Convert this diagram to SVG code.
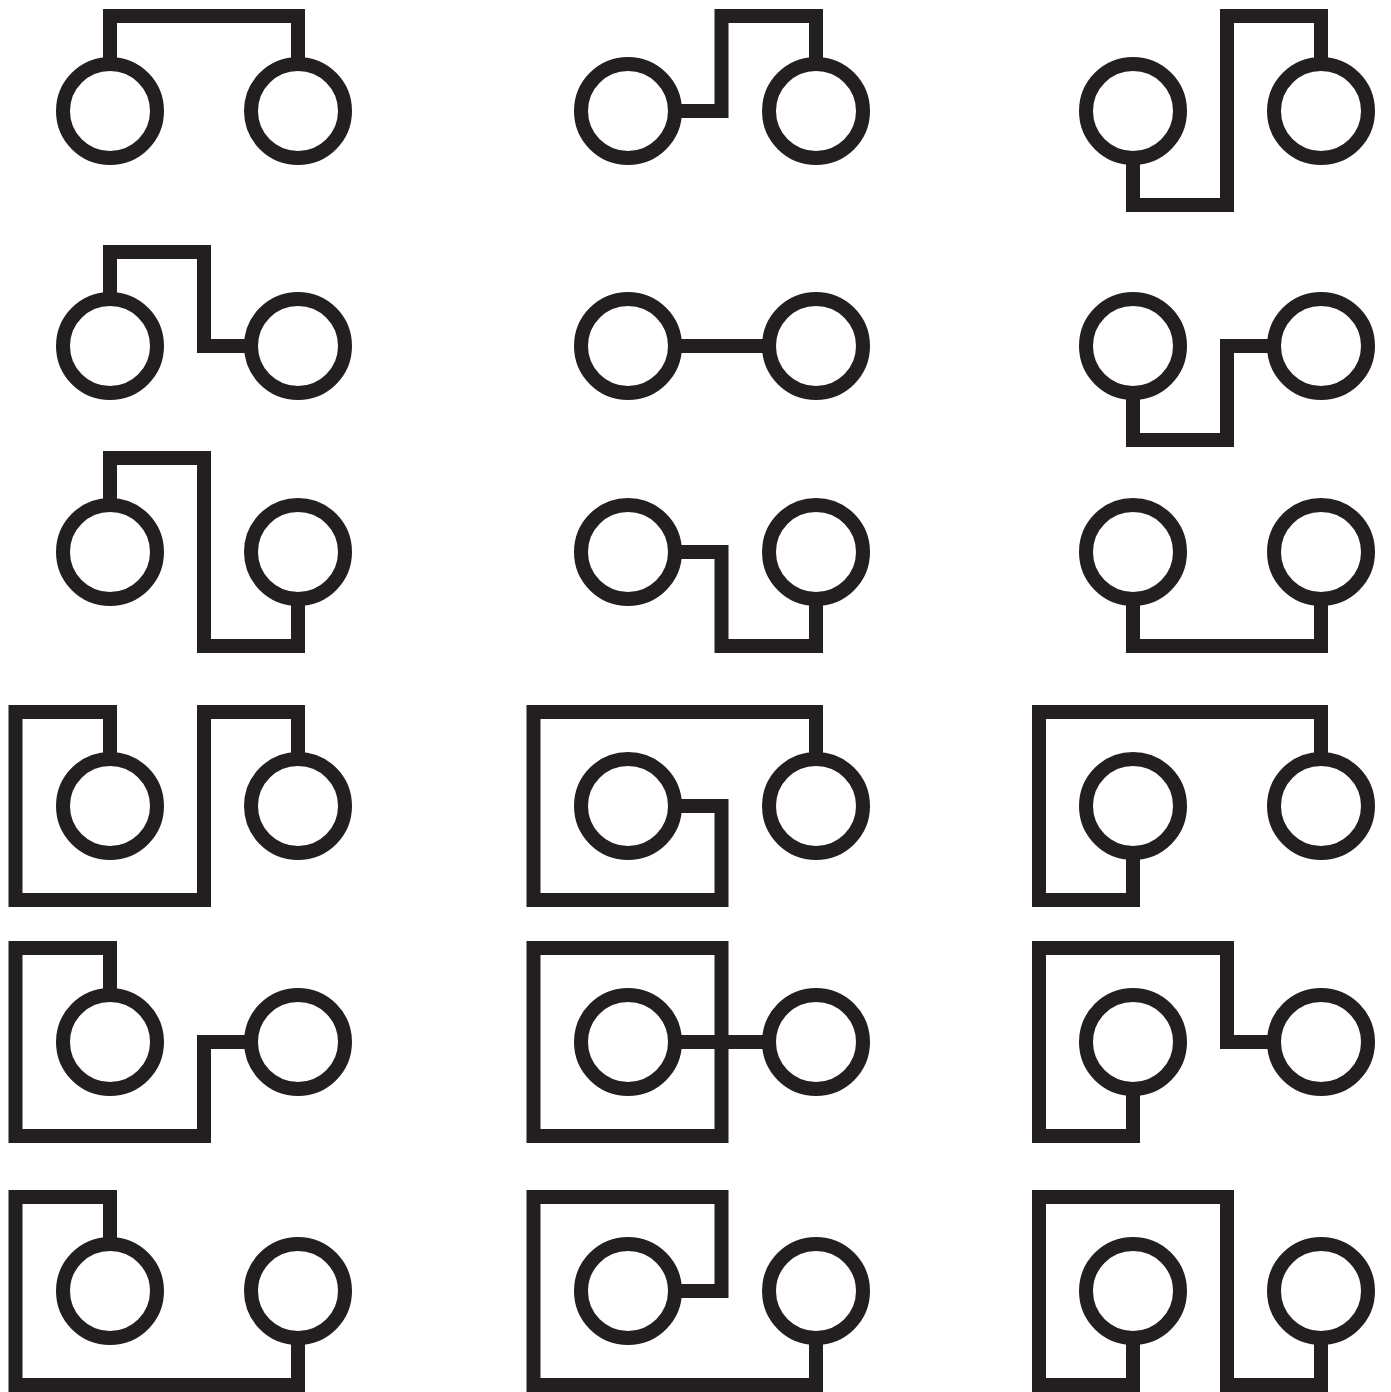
<svg xmlns="http://www.w3.org/2000/svg" width="1391" height="1392" viewBox="0 0 1391 1392">
<style>
.n{fill:none;stroke:#231f20;stroke-width:14}
.w{fill:none;stroke:#231f20;stroke-width:14;stroke-linejoin:miter;stroke-linecap:butt}
</style>
<rect width="1391" height="1392" fill="#fff"/>
<g id="connectors">
<path class="w" d="M110,64 V16 H298 V64"/>
<path class="w" d="M675,111 H721.5 V16 H816 V64"/>
<path class="w" d="M1133,158 V205 H1227 V16 H1321 V64"/>
<path class="w" d="M110,299 V252 H204 V346 H251"/>
<path class="w" d="M675,346 H769"/>
<path class="w" d="M1133,393 V440 H1227 V346 H1274"/>
<path class="w" d="M110,505 V458 H204 V646 H298 V599"/>
<path class="w" d="M675,552 H721.5 V646 H816 V599"/>
<path class="w" d="M1133,599 V646 H1321 V599"/>
<path class="w" d="M110,759 V712 H15.5 V900 H204 V712 H298 V759"/>
<path class="w" d="M675,806 H721.5 V900 H533.5 V712 H816 V759"/>
<path class="w" d="M1133,853 V900 H1039 V712 H1321 V759"/>
<path class="w" d="M110,995 V948 H15.5 V1136 H204 V1042 H251"/>
<path class="w" d="M533.5,948 H721.5 V1136 H533.5 Z"/>
<path class="w" d="M675,1042 H769"/>
<path class="w" d="M1133,1089 V1136 H1039 V948 H1227 V1042 H1274"/>
<path class="w" d="M110,1244 V1197 H15.5 V1385 H298 V1338"/>
<path class="w" d="M675,1291 H721.5 V1197 H533.5 V1385 H816 V1338"/>
<path class="w" d="M1133,1338 V1385 H1039 V1197 H1227 V1385 H1321 V1338"/>
</g>
<g id="r1c1a"><circle class="n" cx="110" cy="111" r="47"/></g>
<g id="r1c1b"><circle class="n" cx="298" cy="111" r="47"/></g>
<g id="r1c2a"><circle class="n" cx="628" cy="111" r="47"/></g>
<g id="r1c2b"><circle class="n" cx="816" cy="111" r="47"/></g>
<g id="r1c3a"><circle class="n" cx="1133" cy="111" r="47"/></g>
<g id="r1c3b"><circle class="n" cx="1321" cy="111" r="47"/></g>
<g id="r2c1a"><circle class="n" cx="110" cy="346" r="47"/></g>
<g id="r2c1b"><circle class="n" cx="298" cy="346" r="47"/></g>
<g id="r2c2a"><circle class="n" cx="628" cy="346" r="47"/></g>
<g id="r2c2b"><circle class="n" cx="816" cy="346" r="47"/></g>
<g id="r2c3a"><circle class="n" cx="1133" cy="346" r="47"/></g>
<g id="r2c3b"><circle class="n" cx="1321" cy="346" r="47"/></g>
<g id="r3c1a"><circle class="n" cx="110" cy="552" r="47"/></g>
<g id="r3c1b"><circle class="n" cx="298" cy="552" r="47"/></g>
<g id="r3c2a"><circle class="n" cx="628" cy="552" r="47"/></g>
<g id="r3c2b"><circle class="n" cx="816" cy="552" r="47"/></g>
<g id="r3c3a"><circle class="n" cx="1133" cy="552" r="47"/></g>
<g id="r3c3b"><circle class="n" cx="1321" cy="552" r="47"/></g>
<g id="r4c1a"><circle class="n" cx="110" cy="806" r="47"/></g>
<g id="r4c1b"><circle class="n" cx="298" cy="806" r="47"/></g>
<g id="r4c2a"><circle class="n" cx="628" cy="806" r="47"/></g>
<g id="r4c2b"><circle class="n" cx="816" cy="806" r="47"/></g>
<g id="r4c3a"><circle class="n" cx="1133" cy="806" r="47"/></g>
<g id="r4c3b"><circle class="n" cx="1321" cy="806" r="47"/></g>
<g id="r5c1a"><circle class="n" cx="110" cy="1042" r="47"/></g>
<g id="r5c1b"><circle class="n" cx="298" cy="1042" r="47"/></g>
<g id="r5c2a"><circle class="n" cx="628" cy="1042" r="47"/></g>
<g id="r5c2b"><circle class="n" cx="816" cy="1042" r="47"/></g>
<g id="r5c3a"><circle class="n" cx="1133" cy="1042" r="47"/></g>
<g id="r5c3b"><circle class="n" cx="1321" cy="1042" r="47"/></g>
<g id="r6c1a"><circle class="n" cx="110" cy="1291" r="47"/></g>
<g id="r6c1b"><circle class="n" cx="298" cy="1291" r="47"/></g>
<g id="r6c2a"><circle class="n" cx="628" cy="1291" r="47"/></g>
<g id="r6c2b"><circle class="n" cx="816" cy="1291" r="47"/></g>
<g id="r6c3a"><circle class="n" cx="1133" cy="1291" r="47"/></g>
<g id="r6c3b"><circle class="n" cx="1321" cy="1291" r="47"/></g>
</svg>
